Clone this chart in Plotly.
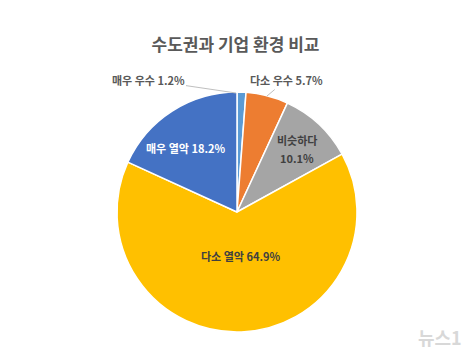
import plotly.graph_objects as go

labels = ["매우 우수", "다소 우수", "비슷하다", "다소 열악", "매우 열악"]
values = [1.2, 5.7, 10.1, 64.9, 18.2]
colors = ["#5B9BD5", "#ED7D31", "#A5A5A5", "#FFC000", "#4472C4"]
label_colors = ["#595959", "#595959", "#404040", "#404040", "#FFFFFF"]

W, H = 471, 363
cx, cy, r = 237, 212, 120
FONT = "Noto Sans CJK KR"

fig = go.Figure(go.Pie(
    labels=labels, values=values, sort=False, direction="clockwise", rotation=0,
    marker=dict(colors=colors, line=dict(color="#FFFFFF", width=1.5)),
    textinfo="none",
    showlegend=False, hoverinfo="label+value", automargin=False,
    domain=dict(x=[(cx - r) / W, (cx + r) / W], y=[(H - cy - r) / H, (H - cy + r) / H]),
))

# label placement (pixel positions of label centres; tip = leader line end on the pie;
# split = label and value on two separate lines, dy pixels apart)
placement = [
    dict(pos=(148, 80), tip=(236, 93), split=None),
    dict(pos=(286, 80), tip=(267, 96), split=None),
    dict(pos=(297, 140), tip=None, split=18),
    dict(pos=(241, 256), tip=None, split=None),
    dict(pos=(186, 148), tip=None, split=None),
]
annotations = []
for i, p in enumerate(placement):
    font = dict(family=FONT, size=11, color=label_colors[i], weight="bold")
    if p["tip"] is not None:
        annotations.append(dict(
            text=f"{labels[i]} {values[i]:.1f}%", x=p["tip"][0] / W, y=1 - p["tip"][1] / H,
            xref="paper", yref="paper",
            ax=p["pos"][0] - p["tip"][0], ay=p["pos"][1] - p["tip"][1], axref="pixel", ayref="pixel",
            showarrow=True, arrowhead=0, arrowwidth=1, arrowcolor="#BFBFBF", font=font))
    elif p["split"]:
        for k, txt in enumerate([labels[i], f"{values[i]:.1f}%"]):
            annotations.append(dict(
                text=txt, x=p["pos"][0] / W, y=1 - (p["pos"][1] + k * p["split"]) / H,
                xref="paper", yref="paper", xanchor="center", yanchor="middle",
                showarrow=False, font=font))
    else:
        annotations.append(dict(
            text=f"{labels[i]} {values[i]:.1f}%", x=p["pos"][0] / W, y=1 - p["pos"][1] / H,
            xref="paper", yref="paper", xanchor="center", yanchor="middle", showarrow=False, font=font))

annotations.append(dict(text="뉴스1", x=0.985, y=0.03, xref="paper", yref="paper", xanchor="right",
                        yanchor="bottom", showarrow=False,
                        font=dict(family=FONT, size=18, color="#D8D8D8", weight="bold")))

fig.update_layout(
    width=W, height=H, margin=dict(l=0, r=0, t=0, b=0),
    paper_bgcolor="#FFFFFF", plot_bgcolor="#FFFFFF",
    title=dict(text="수도권과 기업 환경 비교", x=0.5, xanchor="center", y=1 - 45 / H, yanchor="middle",
               font=dict(family=FONT, size=17, color="#595959", weight="bold")),
    annotations=annotations,
)

fig.write_html("out.html")
